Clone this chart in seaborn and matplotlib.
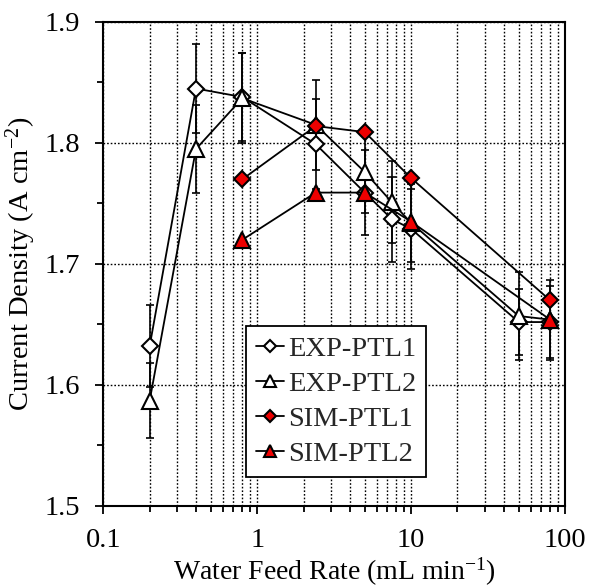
import matplotlib
matplotlib.use("Agg")
import matplotlib.pyplot as plt
import matplotlib.ticker as mticker
from matplotlib.lines import Line2D
import seaborn as sns
import pandas as pd

# ---- data ----
x_exp = [0.2, 0.4, 0.8, 2.4, 5, 7.5, 10, 50, 80]
exp_ptl1 = [1.632, 1.845, 1.838, 1.799, 1.759, 1.737, 1.729, 1.652, 1.652]
exp_ptl1_err = [0.034, 0.037, 0.036, 0.037, 0.035, 0.035, 0.033, 0.027, 0.030]
exp_ptl2 = [1.587, 1.795, 1.837, 1.815, 1.776, 1.751, 1.734, 1.657, 1.654]
exp_ptl2_err = [0.031, 0.036, 0.037, 0.037, 0.034, 0.034, 0.032, 0.036, 0.033]
x_sim = [0.8, 2.4, 5, 10, 80]
sim_ptl1 = [1.770, 1.814, 1.809, 1.771, 1.670]
sim_ptl2 = [1.720, 1.759, 1.759, 1.735, 1.654]
labels = ["EXP-PTL1", "EXP-PTL2", "SIM-PTL1", "SIM-PTL2"]
x_ticks = [0.1, 1, 10, 100]
y_ticks = [1.5, 1.6, 1.7, 1.8, 1.9]

sns.set_theme(style="ticks")
plt.rcParams["font.family"] = ["Liberation Serif", "DejaVu Serif"]
plt.rcParams["mathtext.fontset"] = "custom"
plt.rcParams["mathtext.rm"] = "Liberation Serif"
plt.rcParams["mathtext.it"] = "Liberation Serif:italic"

fig = plt.figure(figsize=(5.89, 5.88), dpi=100)
ax = fig.add_axes([0.1754, 0.1395, 0.7839, 0.8231])

RED = "#EE0000"
series = [
    (x_exp, exp_ptl1, exp_ptl1_err, dict(marker="D", markersize=8.6, markerfacecolor="white")),
    (x_exp, exp_ptl2, exp_ptl2_err, dict(marker="^", markersize=12, markerfacecolor="white")),
    (x_sim, sim_ptl1, None, dict(marker="D", markersize=8.6, markerfacecolor=RED)),
    (x_sim, sim_ptl2, None, dict(marker="^", markersize=12, markerfacecolor=RED)),
]

# error bars first (behind)
for xs, ys, err, st in series:
    if err is not None:
        ax.errorbar(xs, ys, yerr=err, fmt="none", ecolor="black",
                    elinewidth=1.2, capsize=2.8, capthick=1.2, zorder=2)

handles = []
for (xs, ys, err, st), lab in zip(series, labels):
    df = pd.DataFrame({"x": xs, "y": ys})
    sns.lineplot(data=df, x="x", y="y", ax=ax, color="black", linewidth=1.3,
                 estimator=None, sort=False, markeredgecolor="black",
                 markeredgewidth=1.5, zorder=3, legend=False, **st)
    handles.append(Line2D([], [], color="black", linewidth=1.3,
                          markeredgecolor="black", markeredgewidth=1.5, **st))

ax.set_xscale("log")
ax.set_xlim(0.1, 100)
ax.set_ylim(1.5, 1.9)
ax.set_xticks(x_ticks)
ax.xaxis.set_major_formatter(mticker.FuncFormatter(lambda v, p: "%g" % v))
ax.xaxis.set_minor_locator(mticker.LogLocator(base=10, subs=range(2, 10)))
ax.xaxis.set_minor_formatter(mticker.NullFormatter())
ax.set_yticks(y_ticks)
ax.yaxis.set_major_formatter(mticker.FormatStrFormatter("%.1f"))
ax.yaxis.set_minor_locator(mticker.MultipleLocator(0.05))

grid_kw = dict(color="black", linestyle=(0, (1.2, 1.4)), linewidth=1.0)
ax.grid(which="major", axis="both", **grid_kw)
ax.grid(which="minor", axis="x", **grid_kw)
ax.set_axisbelow(True)

for sp in ax.spines.values():
    sp.set_color("black")
    sp.set_linewidth(1.5)
    sp.set_visible(True)

ax.tick_params(axis="both", which="both", direction="out", colors="black",
               top=False, right=False, width=1.3, labelsize=20.5)
ax.tick_params(axis="both", which="major", length=5.5)
ax.tick_params(axis="both", which="minor", length=4.5)
ax.tick_params(axis="y", which="major", pad=11)
ax.tick_params(axis="x", which="major", pad=10)

ax.set_xlabel("Water Feed Rate (mL min$^{-1}$)", fontsize=20, color="black", labelpad=2)
ax.set_ylabel("Current Density (A cm$^{-2}$)", fontsize=20.5, color="black", labelpad=5)

leg = ax.legend(handles, labels, loc="upper left", bbox_to_anchor=(0.309, 0.372),
                borderaxespad=0, fontsize=20.5, frameon=True, fancybox=False,
                edgecolor="black", framealpha=1, handlelength=1.0,
                handletextpad=0.12, labelspacing=0.32, borderpad=0.35,
                markerscale=0.75)
leg.get_frame().set_linewidth(1.3)
leg.set_zorder(10)

fig.savefig("out.png", dpi=100)
